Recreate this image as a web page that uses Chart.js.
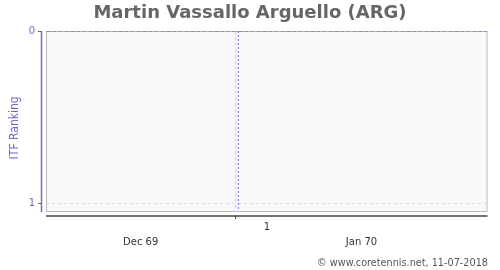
<!DOCTYPE html>
<html>
<head>
<meta charset="utf-8">
<script src="https://cdn.jsdelivr.net/npm/chart.js@4/dist/chart.umd.min.js"></script>
<style>
  html, body { margin: 0; padding: 0; background: #fff; }
</style>
</head>
<body>
<canvas id="chart" width="500" height="270"></canvas>
<script>
// dates are days from 1 Jan 1970
const monthLabels = ["Dec 69", "Jan 70"];
const monthEdges = [-13, 0, 17.3];
const weekTicks = [0];
const weekLabels = ["1"];
const rankTicks = [0, 1];
const rankDates = [-13, 17.3];
const rankValues = [0, 0];
const markerDates = [0.2];

const yMax = 1.0465;

// background box + offset axis lines, like the original image
const framePlugin = {
  id: "frame",
  beforeDraw(chart) {
    const { ctx, chartArea: a } = chart;
    ctx.save();
    ctx.fillStyle = "#f9f9f9";
    ctx.fillRect(a.left, a.top, a.right - a.left, a.bottom - a.top);
    ctx.strokeStyle = "#bbb";
    ctx.lineWidth = 1;
    ctx.strokeRect(a.left + 0.5, a.top + 0.5, a.right - a.left - 1, a.bottom - a.top);
    ctx.restore();
  },
  afterDraw(chart) {
    const { ctx, chartArea: a, scales } = chart;
    ctx.save();
    // y axis
    ctx.strokeStyle = "#7070c0";
    ctx.lineWidth = 1.5;
    ctx.beginPath();
    ctx.moveTo(a.left - 4.5, a.top);
    ctx.lineTo(a.left - 4.5, a.bottom + 1);
    ctx.stroke();
    ctx.strokeStyle = "#666";
    ctx.lineWidth = 1;
    scales.y.ticks.forEach(t => {
      const py = Math.round(scales.y.getPixelForValue(t.value)) + 0.5;
      ctx.beginPath();
      ctx.moveTo(a.left - 8, py);
      ctx.lineTo(a.left - 5, py);
      ctx.stroke();
    });
    // x axis
    ctx.strokeStyle = "#444";
    ctx.lineWidth = 1.5;
    ctx.beginPath();
    ctx.moveTo(a.left, a.bottom + 5);
    ctx.lineTo(a.right, a.bottom + 5);
    ctx.stroke();
    ctx.lineWidth = 1;
    scales.x.ticks.forEach(t => {
      const px = Math.round(scales.x.getPixelForValue(t.value)) + 0.5;
      ctx.beginPath();
      ctx.moveTo(px, a.bottom + 5);
      ctx.lineTo(px, a.bottom + 8);
      ctx.stroke();
    });
    // credit line
    ctx.fillStyle = "#555";
    ctx.font = "9.7px 'DejaVu Sans'";
    ctx.textAlign = "right";
    ctx.textBaseline = "middle";
    ctx.fillText("© www.coretennis.net, 11-07-2018", 488, 263);
    ctx.restore();
  }
};

Chart.defaults.font.family = "'DejaVu Sans', sans-serif";

new Chart(document.getElementById("chart"), {
  type: "line",
  data: {
    datasets: [
      {
        label: "ITF Ranking",
        data: rankDates.map((d, i) => ({ x: d, y: rankValues[i] })),
        borderColor: "rgba(100,100,180,0.8)",
        borderDash: [4, 2],
        borderWidth: 1.5,
        pointRadius: 0,
        xAxisID: "x",
        yAxisID: "y"
      },
      {
        label: "marker",
        data: markerDates.flatMap(d => [{ x: d, y: 0 }, { x: d, y: yMax }]),
        borderColor: "#6a6aff",
        borderDash: [2, 2],
        borderWidth: 1,
        pointRadius: 0,
        xAxisID: "x",
        yAxisID: "y"
      }
    ]
  },
  options: {
    responsive: false,
    animation: false,
    layout: { padding: 0 },
    plugins: {
      legend: { display: false },
      tooltip: { enabled: false },
      title: {
        display: true,
        text: "Martin Vassallo Arguello (ARG)",
        color: "#666",
        font: { size: 18, weight: "bold" },
        padding: { top: 2.5, bottom: 6.9 }
      }
    },
    scales: {
      x: {
        type: "linear",
        position: "bottom",
        weight: 0,
        min: monthEdges[0],
        max: monthEdges[monthEdges.length - 1],
        afterBuildTicks: s => { s.ticks = weekTicks.map(v => ({ value: v })); },
        afterFit: s => { s.height = 22; },
        ticks: {
          callback: (v, i) => weekLabels[i],
          labelOffset: 31.5,
          padding: 10,
          color: "#333",
          font: { size: 10 },
          maxRotation: 0
        },
        grid: { color: "#ccc", drawTicks: false },
        border: { display: false, dash: [3, 3] }
      },
      xm: {
        type: "linear",
        position: "bottom",
        weight: 1,
        min: monthEdges[0],
        max: monthEdges[monthEdges.length - 1],
        afterBuildTicks: s => {
          s.ticks = monthLabels.map((m, i) => ({ value: (monthEdges[i] + monthEdges[i + 1]) / 2 }));
        },
        afterFit: s => { s.height = 37; },
        ticks: {
          callback: (v, i) => monthLabels[i],
          padding: 3,
          color: "#333",
          font: { size: 10 },
          maxRotation: 0
        },
        grid: { display: false, drawTicks: false },
        border: { display: false }
      },
      y: {
        type: "linear",
        position: "left",
        reverse: true,
        min: 0,
        max: yMax,
        afterBuildTicks: s => { s.ticks = rankTicks.map(v => ({ value: v })); },
        afterFit: s => { s.width = 46; },
        ticks: {
          padding: 11,
          color: "#6666cc",
          font: { size: 10 }
        },
        grid: { color: "#ddd", drawTicks: false },
        border: { display: false, dash: [3, 3] },
        title: {
          display: true,
          text: "ITF Ranking    ",
          color: "#6b6bcc",
          font: { family: "'Liberation Sans Narrow', 'DejaVu Sans Condensed', sans-serif", size: 12 },
          padding: { top: 8, bottom: 0 }
        }
      },
      yr: {
        type: "linear",
        position: "right",
        display: true,
        afterFit: s => { s.width = 12.5; },
        ticks: { display: false },
        grid: { display: false, drawTicks: false },
        border: { display: false }
      }
    }
  },
  plugins: [framePlugin]
});
</script>
</body>
</html>
